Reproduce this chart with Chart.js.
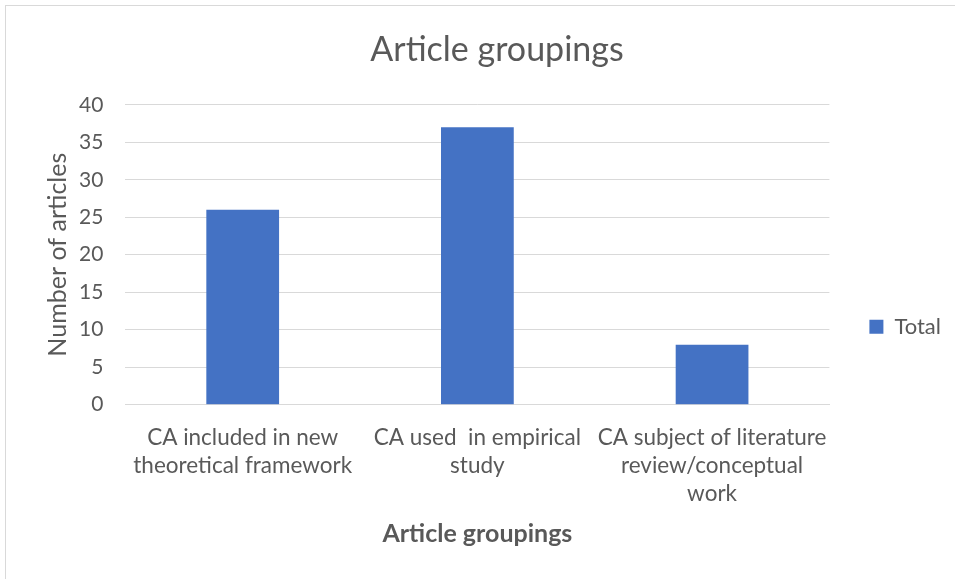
<!DOCTYPE html>
<html>
<head>
<meta charset="utf-8">
<script src="https://cdn.jsdelivr.net/npm/chart.js@4"></script>
<style>
  html, body { margin: 0; padding: 0; background: #fff; }
  #wrap { position: relative; width: 955px; height: 579px; overflow: hidden; }
  #frame { position: absolute; left: 5px; top: 5px; width: 960px; height: 580px; border: 1px solid #d9d9d9; box-sizing: border-box; }
  #chart { position: absolute; left: 0; top: 0; }
</style>
</head>
<body>
<div id="wrap">
  <div id="frame"></div>
  <canvas id="chart" width="955" height="579"></canvas>
</div>
<script>
const categories = [
    ['CA included in new', 'theoretical framework'],
    ['CA used  in empirical', 'study'],
    ['CA subject of literature', 'review/conceptual', 'work']
];
const totals = [26, 37, 8];
const yTicks = [0, 5, 10, 15, 20, 25, 30, 35, 40];

const fontFamily = "Lato, 'Open Sans', 'Liberation Sans', sans-serif";
const textColor = '#595959';
const gridColor = '#d9d9d9';

const ctx = document.getElementById('chart').getContext('2d');
const chart = new Chart(ctx, {
    type: 'bar',
    data: {
        labels: categories,
        datasets: [{
            label: 'Total',
            data: totals,
            backgroundColor: '#4472c4',
            borderColor: 'transparent',
            barPercentage: 0.31,
            categoryPercentage: 1.0
        }]
    },
    options: {
        responsive: false,
        animation: false,
        layout: {
            padding: { left: 43, right: 4, top: 30, bottom: 30 }
        },
        plugins: {
            title: {
                display: true,
                text: 'Article groupings',
                color: textColor,
                font: { family: fontFamily, size: 34, weight: 'normal' },
                padding: { top: 0, bottom: 34 }
            },
            legend: {
                position: 'right',
                // empty legend title only pushes the single item down
                title: {
                    display: true,
                    text: '',
                    padding: { top: 60, bottom: 0 }
                },
                labels: {
                    color: textColor,
                    font: { family: fontFamily, size: 22 },
                    boxWidth: 14,
                    boxHeight: 14,
                    padding: 40
                }
            },
            tooltip: { enabled: false }
        },
        scales: {
            x: {
                grid: { display: false },
                border: { color: gridColor, width: 1 },
                ticks: {
                    color: textColor,
                    font: { family: fontFamily, size: 22.5, lineHeight: 1.25 },
                    maxRotation: 0,
                    padding: 11
                },
                title: {
                    display: true,
                    text: 'Article groupings',
                    color: textColor,
                    font: { family: fontFamily, size: 25, weight: 'bold' },
                    padding: { top: 0, bottom: 0 }
                }
            },
            y: {
                min: 0,
                max: 40,
                afterBuildTicks: (axis) => {
                    axis.ticks = yTicks.map(v => ({ value: v }));
                },
                grid: { color: gridColor, drawTicks: false, lineWidth: 1 },
                border: { display: false },
                ticks: {
                    color: textColor,
                    font: { family: fontFamily, size: 21 },
                    padding: 22
                },
                title: {
                    display: true,
                    text: 'Number of articles',
                    color: textColor,
                    font: { family: fontFamily, size: 25 },
                    padding: { top: 0, bottom: -16 }
                }
            }
        }
    }
});
</script>
</body>
</html>
